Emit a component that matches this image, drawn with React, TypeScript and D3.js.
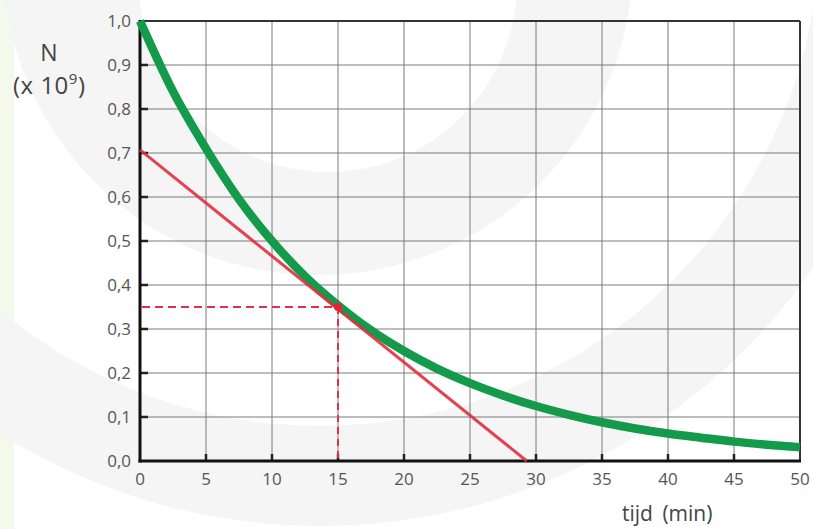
import React from "react";
import * as d3 from "d3";

const timeMin = [0, 2.5, 5, 7.5, 10, 12.5, 15, 17.5, 20, 22.5, 25, 27.5, 30, 32.5, 35, 37.5, 40, 42.5, 45, 47.5, 50];
const countN = [1.0, 0.84, 0.71, 0.595, 0.5, 0.42, 0.354, 0.297, 0.25, 0.21, 0.177, 0.149, 0.125, 0.105, 0.088, 0.074, 0.0625, 0.053, 0.044, 0.037, 0.031];
const tangentT = [0, 29.3];
const tangentN = [0.707, 0];
const markT = 15;
const markN = 0.35;
const xTicks = [0, 5, 10, 15, 20, 25, 30, 35, 40, 45, 50];
const yTicks = [0, 0.1, 0.2, 0.3, 0.4, 0.5, 0.6, 0.7, 0.8, 0.9, 1.0];

const W = 813, H = 529;
const L = 140, R = 800, T = 21, B = 461;

export default function App() {
  const x = d3.scaleLinear().domain([0, 50]).range([L, R]);
  const y = d3.scaleLinear().domain([0, 1]).range([B, T]);
  const pts = timeMin.map((t, i) => [t, countN[i]] as [number, number]);
  const line = d3.line<[number, number]>().x(d => x(d[0])).y(d => y(d[1])).curve(d3.curveMonotoneX);
  const fmt = (v: number) => v.toFixed(1).replace(".", ",");
  const font = "'Open Sans', 'DejaVu Sans', sans-serif";

  const ring = (cx: number, cy: number, r1: number, cx2: number, cy2: number, r2: number) =>
    `M${cx - r1},${cy}a${r1},${r1} 0 1,0 ${2 * r1},0a${r1},${r1} 0 1,0 ${-2 * r1},0Z` +
    `M${cx2 - r2},${cy2}a${r2},${r2} 0 1,0 ${2 * r2},0a${r2},${r2} 0 1,0 ${-2 * r2},0Z`;

  return (
    <svg width={W} height={H} style={{ position: "absolute", left: 0, top: 0 }} xmlns="http://www.w3.org/2000/svg">
      <rect x={0} y={0} width={W} height={H} fill="#ffffff" />
      <rect x={0} y={0} width={14} height={H} fill="#f4f9ee" />
      {/* watermark */}
      <path d={ring(320, -74, 600, 320, -74, 500)} fill="#f5f5f5" fillRule="evenodd" />
      <path d={ring(318, -40, 315, 328, -17, 189)} fill="#f5f5f5" fillRule="evenodd" />

      {/* grid */}
      {xTicks.slice(1, -1).map(t => (
        <line key={"gx" + t} x1={x(t)} x2={x(t)} y1={T} y2={B} stroke="#7a7a7a" strokeWidth={1} />
      ))}
      {yTicks.slice(1, -1).map(v => (
        <line key={"gy" + v} x1={L} x2={R} y1={y(v)} y2={y(v)} stroke="#7a7a7a" strokeWidth={1} />
      ))}
      {/* frame */}
      <line x1={L} x2={R} y1={T} y2={T} stroke="#333" strokeWidth={2} />
      <line x1={R} x2={R} y1={T} y2={B} stroke="#333" strokeWidth={2} />
      {/* inner ticks */}
      {xTicks.slice(1, -1).map(t => (
        <line key={"tx" + t} x1={x(t)} x2={x(t)} y1={B} y2={B - 7} stroke="#222" strokeWidth={2.5} />
      ))}
      {yTicks.slice(1, -1).map(v => (
        <line key={"ty" + v} x1={L} x2={L + 8} y1={y(v)} y2={y(v)} stroke="#222" strokeWidth={2.5} />
      ))}
      <line x1={L} x2={L} y1={T - 1} y2={B + 1.5} stroke="#111" strokeWidth={3} />
      <line x1={L - 1.5} x2={R + 1} y1={B} y2={B} stroke="#111" strokeWidth={3} />

      {/* tick labels */}
      {yTicks.map(v => (
        <text key={"ly" + v} x={L - 9} y={y(v)} dy="0.35em" textAnchor="end" fontFamily={font} fontSize={17} fill="#555">
          {fmt(v)}
        </text>
      ))}
      {xTicks.map(t => (
        <text key={"lx" + t} x={x(t)} y={B + 24} textAnchor="middle" fontFamily={font} fontSize={17} fill="#555">
          {t}
        </text>
      ))}

      {/* curves */}
      <path d={line(pts) || ""} fill="none" stroke="#139a4a" strokeWidth={8.5} />
      <line x1={x(tangentT[0])} y1={y(tangentN[0])} x2={x(tangentT[1])} y2={y(tangentN[1])} stroke="#e0303e" strokeWidth={3} strokeOpacity={0.9} />
      <line x1={L + 2} x2={x(markT)} y1={y(markN)} y2={y(markN)} stroke="#e0304a" strokeWidth={2} strokeDasharray="8,5" />
      <line x1={x(markT)} x2={x(markT)} y1={y(markN)} y2={B - 2} stroke="#e0304a" strokeWidth={2} strokeDasharray="7,5" />
      <circle cx={x(markT)} cy={y(markN)} r={4} fill="#e8203a" />

      {/* axis titles */}
      <text x={49} y={61} textAnchor="middle" fontFamily={font} fontSize={23} fill="#444">N</text>
      <text x={13} y={94} fontFamily={font} fontSize={24} fill="#444" letterSpacing={0.5}>
        (x 10<tspan dy={-10} fontSize={15}>9</tspan><tspan dy={10}>)</tspan>
      </text>
      <text x={622} y={521} fontFamily={font} fontSize={21} fill="#444" wordSpacing={4}>tijd (min)</text>
    </svg>
  );
}
